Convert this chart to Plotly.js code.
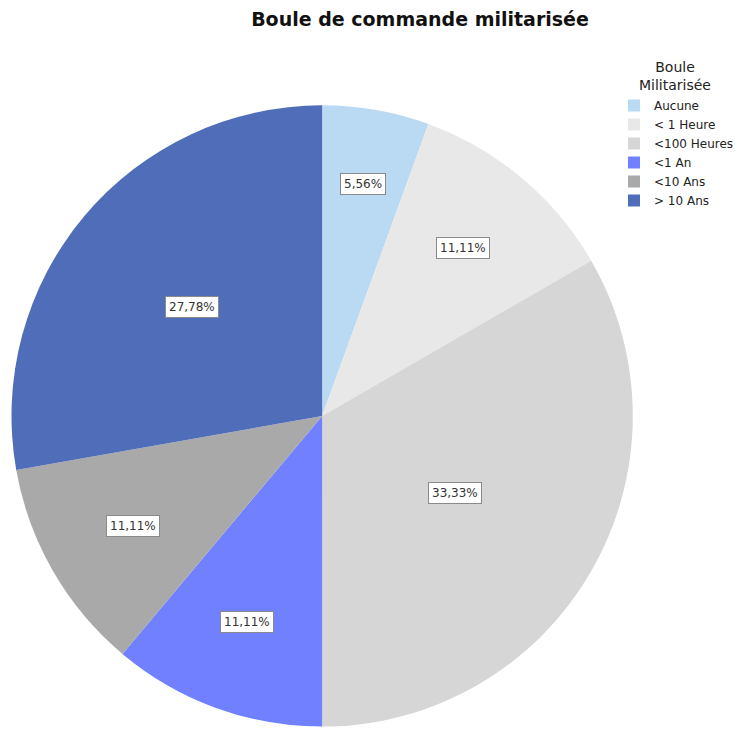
<!DOCTYPE html>
<html>
<head>
<meta charset="utf-8">
<script src="https://cdn.plot.ly/plotly-3.0.1.min.js"></script>
<style>
  html, body { margin: 0; padding: 0; background: #fff; }
  #chart { width: 739px; height: 729px; }
</style>
</head>
<body>
<div id="chart"></div>
<script>
// Categories, counts and slice colours
const categories = ['Aucune', '< 1 Heure', '<100 Heures', '<1 An', '<10 Ans', '> 10 Ans'];
const counts = [1, 2, 6, 2, 2, 5];
const colors = ['#b9daf2', '#e8e8e8', '#d6d6d6', '#7080ff', '#a9a9a9', '#4f6db8'];
const legendTitle = 'Boule<br>Militarisée';

const W = 739, H = 729;
const domX = [0.0156, 0.8586];
const domY = [0.0021, 0.8567];

const total = counts.reduce((a, b) => a + b, 0);

const trace = {
  type: 'pie',
  labels: categories,
  values: counts,
  marker: { colors: colors, line: { width: 0 } },
  sort: false,
  direction: 'clockwise',
  rotation: 0,
  textinfo: 'none',
  hoverinfo: 'none',
  domain: { x: domX, y: domY }
};

// Percentage labels in boxes, placed along each slice's mid-angle;
// narrower slices push their label further out toward the rim
const cxPx = (domX[0] + domX[1]) / 2 * W;
const cyPx = (1 - (domY[0] + domY[1]) / 2) * H;
const R = Math.min((domX[1] - domX[0]) * W, (domY[1] - domY[0]) * H) / 2;
const annotations = [];
let cum = 0;
counts.forEach((v, i) => {
  const share = v / total;
  const mid = (cum + share / 2) * 2 * Math.PI;
  cum += share;
  const f = 0.81 - 0.95 * share;
  const px = cxPx + R * f * Math.sin(mid);
  const py = cyPx - R * f * Math.cos(mid);
  annotations.push({
    x: px / W, y: 1 - py / H, xref: 'paper', yref: 'paper',
    xanchor: 'center', yanchor: 'middle', showarrow: false,
    text: (share * 100).toFixed(2).replace('.', ',') + '%',
    font: { family: 'DejaVu Sans, sans-serif', size: 12, color: '#333' },
    bgcolor: '#ffffff', bordercolor: '#8a8a8a', borderwidth: 1, borderpad: 3
  });
});

// Centred two-line legend heading
annotations.push({
  x: 677 / W, y: 1 - 76 / H, xref: 'paper', yref: 'paper',
  xanchor: 'center', yanchor: 'middle', align: 'center', showarrow: false,
  text: legendTitle,
  font: { family: 'DejaVu Sans, sans-serif', size: 14, color: '#222' }
});

const layout = {
  width: W, height: H,
  margin: { l: 0, r: 0, t: 0, b: 0 },
  paper_bgcolor: '#ffffff',
  title: {
    text: '<b>Boule de commande militarisée</b>',
    font: { family: 'DejaVu Sans, sans-serif', size: 19, color: '#111' },
    x: 420 / W, xanchor: 'center', y: 1 - 19 / H, yanchor: 'middle'
  },
  showlegend: true,
  legend: {
    x: 616 / W, xanchor: 'left', y: 1 - 91 / H, yanchor: 'top',
    font: { family: 'DejaVu Sans, sans-serif', size: 12, color: '#222' },
    bgcolor: 'rgba(0,0,0,0)', borderwidth: 0, traceorder: 'normal'
  },
  annotations: annotations
};

Plotly.newPlot('chart', [trace], layout, { displayModeBar: false, staticPlot: true });
</script>
</body>
</html>
